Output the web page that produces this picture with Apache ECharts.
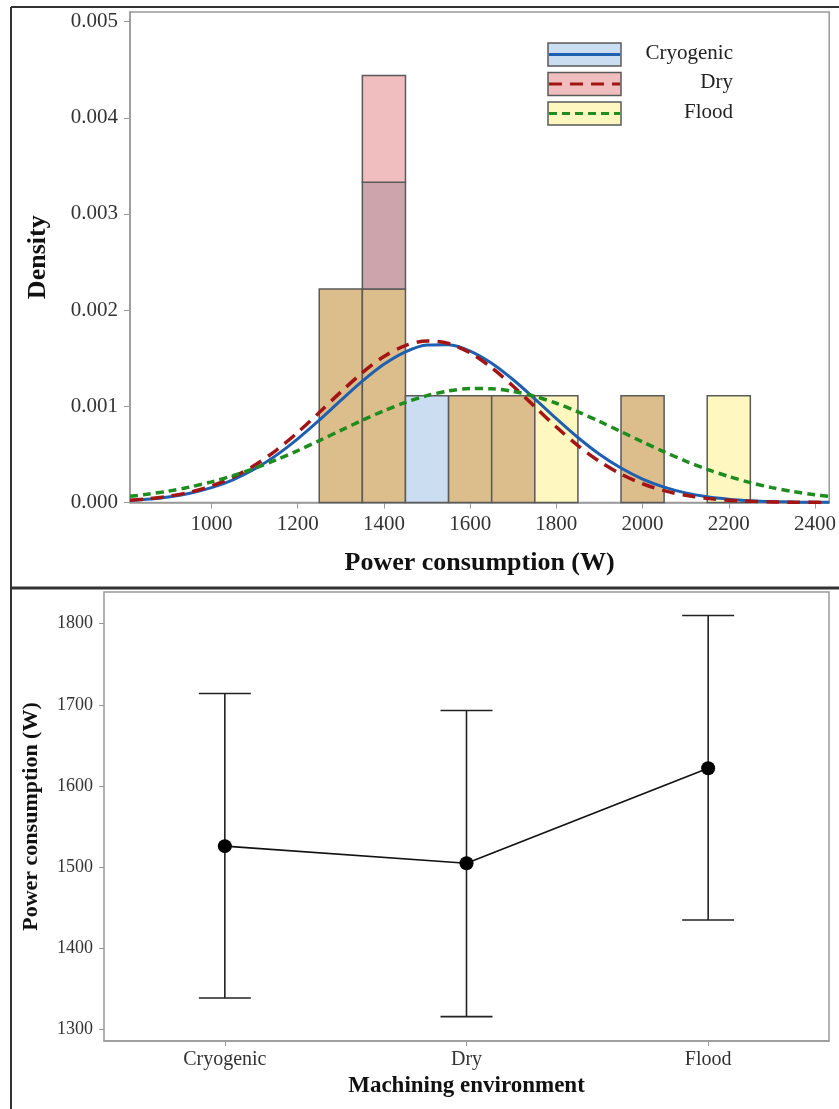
<!DOCTYPE html>
<html>
<head>
<meta charset="utf-8">
<script src="https://cdn.jsdelivr.net/npm/echarts@6/dist/echarts.min.js"></script>
<style>
  html, body { margin: 0; padding: 0; background: #fff; }
  #main { width: 839px; height: 1109px; }
</style>
</head>
<body>
<div id="main"></div>
<script>
// histogram bins (W) and density of each group per bin
var binEdges = [1250, 1350, 1450, 1550, 1650, 1750, 1850, 1950, 2050, 2150, 2250];
var cryoDensity  = [0.00222, 0.00333, 0.00111, 0.00111, 0.00111, 0, 0, 0.00111, 0, 0];
var dryDensity   = [0.00222, 0.00444, 0, 0.00111, 0.00111, 0, 0, 0.00111, 0, 0];
var floodDensity = [0.00222, 0.00222, 0, 0.00111, 0.00111, 0.00111, 0, 0.00111, 0, 0.00111];

// fitted curves
var curveX = [811, 850, 900, 950, 1000, 1050, 1100, 1150, 1200, 1250, 1300, 1350, 1400, 1450, 1500, 1550, 1600,
	1650, 1700, 1750, 1800, 1850, 1900, 1950, 2000, 2050, 2100, 2150, 2200, 2250, 2300, 2350, 2400, 2433];
var cryoCurve = [0.0000207, 0.0000329, 0.0000574, 0.0000961, 0.000154, 0.000236, 0.000348, 0.000490, 0.000662,
	0.000856, 0.001062, 0.001262, 0.001437, 0.001567, 0.001638, 0.001641, 0.001575, 0.001448, 0.001276, 0.001078,
	0.000872, 0.000676, 0.000502, 0.000358, 0.000244, 0.000160, 0.0000999, 0.0000600, 0.0000345, 0.0000190,
	0.0000101, 0.0000051, 0.0000025, 0.0000015];
var dryCurve = [0.0000229, 0.0000366, 0.0000641, 0.000107, 0.000172, 0.000264, 0.000387, 0.000543, 0.000729,
	0.000935, 0.001149, 0.001350, 0.001518, 0.001632, 0.001679, 0.001653, 0.001556, 0.001401, 0.001208, 0.000995,
	0.000785, 0.000592, 0.000427, 0.000295, 0.000195, 0.000123, 0.0000744, 0.0000430, 0.0000238, 0.0000126,
	0.0000064, 0.0000031, 0.0000014, 0.0000007];
var floodCurve = [0.0000644, 0.0000848, 0.000118, 0.000161, 0.000214, 0.000279, 0.000355, 0.000443, 0.000539,
	0.000643, 0.000750, 0.000855, 0.000954, 0.001041, 0.001111, 0.001160, 0.001185, 0.001183, 0.001155, 0.001104,
	0.001032, 0.000943, 0.000843, 0.000737, 0.000630, 0.000527, 0.000431, 0.000345, 0.000270, 0.000207,
	0.000155, 0.000113, 0.0000813, 0.0000644];

var densityTicks = [0, 0.001, 0.002, 0.003, 0.004, 0.005];
var powerTicks = [1000, 1200, 1400, 1600, 1800, 2000, 2200, 2400];

// interval plot
var environments = ['Cryogenic', 'Dry', 'Flood'];
var meanPower = [1526, 1505, 1622];
var lowerCI = [1339, 1316, 1435];
var upperCI = [1714, 1693, 1810];
var meanTicks = [1300, 1400, 1500, 1600, 1700, 1800];

var serif = '"Liberation Serif", "Times New Roman", serif';
var groupNames = ['Cryogenic', 'Dry', 'Flood'];
var lineColors = ['#1f5fb0', '#a31515', '#1e8c1e'];
var lineDash = ['solid', [13, 8], [8, 5]];
var fillColors = {
	C: '#cbddf0', D: '#f0bebe', F: '#fef7c0',
	CD: '#cda3ac', CF: '#d8dcc8', DF: '#e9c9a6', CDF: '#dbbe8c'
};

// split overlapping bars into visible layers
function buildSegments() {
	var segs = [];
	var groups = [['C', cryoDensity], ['D', dryDensity], ['F', floodDensity]];
	for (var i = 0; i < binEdges.length - 1; i++) {
		var hs = [0];
		groups.forEach(function (g) { if (g[1][i] > 0 && hs.indexOf(g[1][i]) < 0) hs.push(g[1][i]); });
		hs.sort(function (a, b) { return a - b; });
		for (var k = 0; k < hs.length - 1; k++) {
			var key = '';
			groups.forEach(function (g) { if (g[1][i] >= hs[k + 1]) key += g[0]; });
			segs.push({ value: [binEdges[i], binEdges[i + 1], hs[k], hs[k + 1]], key: key });
		}
	}
	return segs;
}
var segments = buildSegments();

function curveData(ys) {
	return curveX.map(function (x, i) { return [x, ys[i]]; });
}

var chart = echarts.init(document.getElementById('main'));

var legendGraphics = [];
groupNames.forEach(function (name, i) {
	var top = 43 + i * 29.5;
	var key = ['C', 'D', 'F'][i];
	legendGraphics.push({
		type: 'rect', shape: { x: 548, y: top, width: 73, height: 23 },
		style: { fill: fillColors[key], stroke: '#5a5a5a', lineWidth: 1.5 }
	});
	legendGraphics.push({
		type: 'line', shape: { x1: 549, y1: top + 11.5, x2: 620, y2: top + 11.5 },
		style: { stroke: lineColors[i], lineWidth: 3, lineDash: lineDash[i] === 'solid' ? null : lineDash[i] }
	});
	legendGraphics.push({
		type: 'text', x: 733, y: top + 10,
		style: { text: name, font: '21px ' + serif, fill: '#222', align: 'right', verticalAlign: 'middle', textAlign: 'right', textVerticalAlign: 'middle' }
	});
});

var frame = [
	{ type: 'line', shape: { x1: 11, y1: 7, x2: 11, y2: 1109 }, style: { stroke: '#333', lineWidth: 2 } },
	{ type: 'line', shape: { x1: 11, y1: 7, x2: 839, y2: 7 }, style: { stroke: '#333', lineWidth: 2 } },
	{ type: 'line', shape: { x1: 11, y1: 588, x2: 839, y2: 588 }, style: { stroke: '#333', lineWidth: 3 } }
];

var axisGray = { lineStyle: { color: '#999', width: 1.5 } };
var plain = function (v) { return String(v); };

var option = {
	animation: false,
	backgroundColor: '#fff',
	grid: [
		{ left: 130, top: 12, width: 702, height: 490.5, show: true, borderColor: '#999', borderWidth: 1.5 },
		{ left: 104, top: 592, width: 725, height: 449, show: true, borderColor: '#999', borderWidth: 1.5 }
	],
	xAxis: [
		{
			type: 'value', gridIndex: 0, min: 811, max: 2433,
			name: 'Power consumption (W)', nameLocation: 'middle', nameGap: 48,
			nameTextStyle: { fontFamily: serif, fontSize: 26, fontWeight: 'bold', color: '#111' },
			axisLine: axisGray, splitLine: { show: false },
			axisTick: { show: true, length: 6, lineStyle: { color: '#999' }, customValues: powerTicks },
			axisLabel: { customValues: powerTicks, formatter: plain, fontFamily: serif, fontSize: 21, color: '#333', margin: 11 }
		},
		{
			type: 'category', gridIndex: 1, data: environments, boundaryGap: true,
			name: 'Machining environment', nameLocation: 'middle', nameGap: 34,
			nameTextStyle: { fontFamily: serif, fontSize: 23, fontWeight: 'bold', color: '#111' },
			axisLine: axisGray,
			axisTick: { show: true, alignWithLabel: true, length: 5, lineStyle: { color: '#999' } },
			axisLabel: { fontFamily: serif, fontSize: 20, color: '#333', margin: 9 }
		}
	],
	yAxis: [
		{
			type: 'value', gridIndex: 0, min: 0, max: 0.0051,
			name: 'Density', nameLocation: 'middle', nameGap: 79,
			nameTextStyle: { fontFamily: serif, fontSize: 26, fontWeight: 'bold', color: '#111' },
			axisLine: axisGray, splitLine: { show: false },
			axisTick: { show: true, length: 6, lineStyle: { color: '#999' }, customValues: densityTicks },
			axisLabel: {
				customValues: densityTicks, fontFamily: serif, fontSize: 21, color: '#333', margin: 12,
				formatter: function (v) { return v.toFixed(3); }
			}
		},
		{
			type: 'value', gridIndex: 1, min: 1286, max: 1839,
			name: 'Power consumption (W)', nameLocation: 'middle', nameGap: 62,
			nameTextStyle: { fontFamily: serif, fontSize: 22, fontWeight: 'bold', color: '#111' },
			axisLine: axisGray, splitLine: { show: false },
			axisTick: { show: true, length: 5, lineStyle: { color: '#999' }, customValues: meanTicks },
			axisLabel: { customValues: meanTicks, formatter: plain, fontFamily: serif, fontSize: 18, color: '#333', margin: 11 }
		}
	],
	series: [
		{
			type: 'custom', xAxisIndex: 0, yAxisIndex: 0,
			data: segments.map(function (s) { return s.value; }),
			encode: { x: [0, 1], y: [2, 3] },
			renderItem: function (params, api) {
				var p0 = api.coord([api.value(0), api.value(3)]);
				var p1 = api.coord([api.value(1), api.value(2)]);
				return {
					type: 'rect',
					shape: { x: p0[0], y: p0[1], width: p1[0] - p0[0], height: p1[1] - p0[1] },
					style: { fill: fillColors[segments[params.dataIndex].key], stroke: '#5a5a5a', lineWidth: 1.5 }
				};
			},
			z: 1
		},
		{
			name: 'Cryogenic', type: 'line', xAxisIndex: 0, yAxisIndex: 0, data: curveData(cryoCurve),
			smooth: 0.3, showSymbol: false, lineStyle: { color: lineColors[0], width: 3 }, z: 3
		},
		{
			name: 'Dry', type: 'line', xAxisIndex: 0, yAxisIndex: 0, data: curveData(dryCurve),
			smooth: 0.3, showSymbol: false, lineStyle: { color: lineColors[1], width: 3.5, type: lineDash[1] }, z: 4
		},
		{
			name: 'Flood', type: 'line', xAxisIndex: 0, yAxisIndex: 0, data: curveData(floodCurve),
			smooth: 0.3, showSymbol: false, lineStyle: { color: lineColors[2], width: 3.5, type: lineDash[2] }, z: 5
		},
		{
			type: 'custom', xAxisIndex: 1, yAxisIndex: 1,
			data: environments.map(function (e, i) { return [i, lowerCI[i], upperCI[i]]; }),
			encode: { x: 0, y: [1, 2] },
			renderItem: function (params, api) {
				var lo = api.coord([api.value(0), api.value(1)]);
				var hi = api.coord([api.value(0), api.value(2)]);
				var w = 26;
				var st = { stroke: '#222', lineWidth: 1.6 };
				return {
					type: 'group',
					children: [
						{ type: 'line', shape: { x1: lo[0], y1: lo[1], x2: hi[0], y2: hi[1] }, style: st },
						{ type: 'line', shape: { x1: lo[0] - w, y1: lo[1], x2: lo[0] + w, y2: lo[1] }, style: st },
						{ type: 'line', shape: { x1: hi[0] - w, y1: hi[1], x2: hi[0] + w, y2: hi[1] }, style: st }
					]
				};
			},
			z: 2
		},
		{
			type: 'line', xAxisIndex: 1, yAxisIndex: 1, data: meanPower,
			symbol: 'circle', symbolSize: 14,
			itemStyle: { color: '#000' }, lineStyle: { color: '#111', width: 1.6 }, z: 3
		}
	],
	graphic: frame.concat(legendGraphics)
};

chart.setOption(option);
</script>
</body>
</html>
